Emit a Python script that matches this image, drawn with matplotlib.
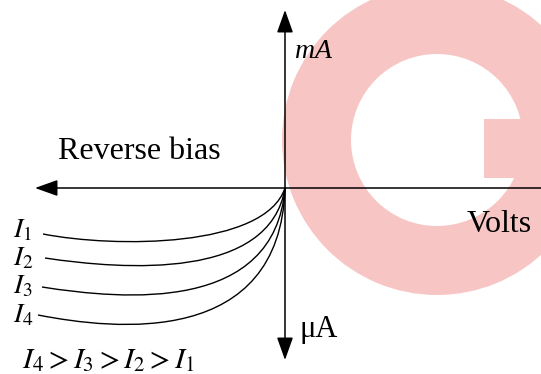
import matplotlib
matplotlib.use("Agg")
import matplotlib.pyplot as plt
from matplotlib.path import Path
from matplotlib.patches import PathPatch, Wedge, Rectangle

plt.rcParams['mathtext.fontset'] = 'stix'
plt.rcParams['font.family'] = ['Liberation Serif', 'DejaVu Serif']

# Schematic photodiode reverse-bias curves (voltage, current), Bezier control points
curve_names = ["$I_1$", "$I_2$", "$I_3$", "$I_4$"]
curve_v = [
    [-242, -170, -20, 0],
    [-240, -160, -15, 0],
    [-243, -160, -10, 0],
    [-247, -170, -5, 0],
]
curve_i = [
    [-46, -60, -60, 0],
    [-70, -82, -92, 0],
    [-99, -112, -125, 0],
    [-127, -142, -160, 0],
]
label_y = [-49, -77, -105, -134]

fig = plt.figure(figsize=(5.41, 3.74), dpi=100)
ax = fig.add_axes([0, 0, 1, 1])
ax.set_xlim(-285, 256)
ax.set_ylim(-186, 188)
ax.axis('off')

# watermark "G"
pink = '#F7C6C4'
ax.add_patch(Wedge((152, 48), 155, 0, 360, width=69, facecolor=pink, edgecolor='none', zorder=0))
ax.add_patch(Rectangle((199, 10), 55, 59, facecolor=pink, edgecolor='none', zorder=0))

# axes arrows
arrow_kw = dict(arrowstyle='-|>,head_length=1.4,head_width=0.5', color='black', lw=1.1,
                shrinkA=0, shrinkB=0, mutation_scale=10)
ax.plot([0, 256], [0, 0], color='black', lw=1.1, zorder=3)
ax.annotate('', xy=(-250, 0), xytext=(0, 0), arrowprops=arrow_kw, zorder=3)
ax.annotate('', xy=(0, 178), xytext=(0, 0), arrowprops=arrow_kw, zorder=3)
ax.annotate('', xy=(0, -172), xytext=(0, 0), arrowprops=arrow_kw, zorder=3)

# curves
codes = [Path.MOVETO, Path.CURVE4, Path.CURVE4, Path.CURVE4]
for v, i in zip(curve_v, curve_i):
    p = Path(list(zip(v, i)), codes)
    ax.add_patch(PathPatch(p, facecolor='none', edgecolor='black', lw=1.0, zorder=3))

for name, y in zip(curve_names, label_y):
    ax.text(-272, y, name, fontsize=20, ha='left', va='baseline', zorder=4)

ax.text(10, 130, 'mA', fontsize=20, style='italic', ha='left', va='baseline', zorder=4)
ax.text(14, -149, 'μA', fontsize=22, ha='left', va='baseline', zorder=4)
ax.text(-227, 29, 'Reverse bias', fontsize=23, ha='left', va='baseline', zorder=4)
ax.text(182, -44, 'Volts', fontsize=23, ha='left', va='baseline', zorder=4)
ax.text(-263, -180, '$I_4 > I_3 > I_2 > I_1$', fontsize=21.5, ha='left', va='baseline', zorder=4)

fig.savefig('out.png', dpi=100)
